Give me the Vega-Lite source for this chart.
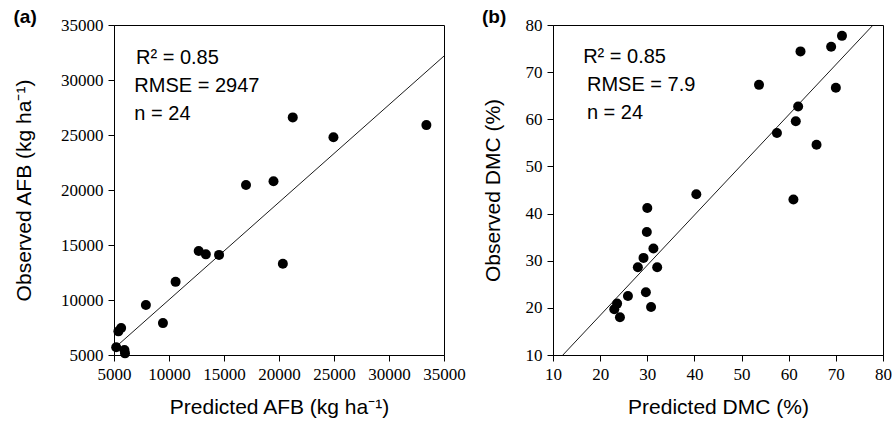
{
  "$schema": "https://vega.github.io/schema/vega-lite/v6.json",
  "background": "white",
  "padding": {"left": 13, "top": 7, "right": 0, "bottom": 5},
  "spacing": 15,
  "config": {
    "view": {"stroke": "black", "strokeWidth": 1},
    "axis": {
      "grid": false,
      "domainColor": "black",
      "domainWidth": 1,
      "tickColor": "black",
      "tickWidth": 1,
      "tickSize": 6,
      "labelFont": "Liberation Serif",
      "labelFontSize": 17,
      "labelColor": "black",
      "labelPadding": 5,
      "labelFlush": false,
      "labelOverlap": false,
      "titleFont": "Liberation Sans",
      "titleFontSize": 21,
      "titleFontWeight": "normal",
      "titleColor": "black"
    },
    "axisX": {"titlePadding": 14},
    "title": {"font": "Liberation Sans", "fontSize": 19, "fontWeight": "bold", "color": "black", "anchor": "start", "frame": "bounds", "offset": -11},
    "text": {"font": "Liberation Sans", "fontSize": 20, "color": "black", "align": "left", "baseline": "middle"}
  },
  "datasets": {
    "afb": [
      {"predicted": 33400, "observed": 25900},
      {"predicted": 24950, "observed": 24800},
      {"predicted": 21250, "observed": 26600},
      {"predicted": 19500, "observed": 20800},
      {"predicted": 17000, "observed": 20450},
      {"predicted": 20350, "observed": 13300},
      {"predicted": 14550, "observed": 14100},
      {"predicted": 13350, "observed": 14150},
      {"predicted": 12700, "observed": 14450},
      {"predicted": 10600, "observed": 11650},
      {"predicted": 7900, "observed": 9550},
      {"predicted": 9450, "observed": 7900},
      {"predicted": 5650, "observed": 7450},
      {"predicted": 5400, "observed": 7150},
      {"predicted": 5200, "observed": 5700},
      {"predicted": 5950, "observed": 5450},
      {"predicted": 6000, "observed": 5150}
    ],
    "afbLine": [
      {"predicted": 5350, "observed": 5900},
      {"predicted": 35000, "observed": 32180}
    ],
    "dmc": [
      {"predicted": 71.3, "observed": 77.7},
      {"predicted": 69.0, "observed": 75.4},
      {"predicted": 62.5, "observed": 74.4},
      {"predicted": 53.7, "observed": 67.3},
      {"predicted": 70.0, "observed": 66.7},
      {"predicted": 62.0, "observed": 62.7},
      {"predicted": 61.5, "observed": 59.6},
      {"predicted": 57.5, "observed": 57.1},
      {"predicted": 65.9, "observed": 54.6},
      {"predicted": 61.0, "observed": 43.0},
      {"predicted": 40.4, "observed": 44.1},
      {"predicted": 30.0, "observed": 41.2},
      {"predicted": 29.9, "observed": 36.1},
      {"predicted": 31.3, "observed": 32.6},
      {"predicted": 29.2, "observed": 30.6},
      {"predicted": 28.0, "observed": 28.6},
      {"predicted": 32.1, "observed": 28.6},
      {"predicted": 25.9, "observed": 22.5},
      {"predicted": 29.7, "observed": 23.3},
      {"predicted": 30.8, "observed": 20.2},
      {"predicted": 23.6, "observed": 20.9},
      {"predicted": 23.0, "observed": 19.7},
      {"predicted": 24.2, "observed": 18.0}
    ],
    "dmcLine": [
      {"predicted": 12.1, "observed": 10},
      {"predicted": 77.9, "observed": 80}
    ]
  },
  "hconcat": [
    {
      "width": 330,
      "height": 330,
      "title": {"text": "(a)"},
      "layer": [
        {
          "data": {"name": "afb"},
          "mark": {"type": "circle", "size": 100, "color": "black", "opacity": 1},
          "encoding": {
            "x": {"field": "predicted", "type": "quantitative", "scale": {"domain": [5000, 35000], "nice": false}, "axis": {"values": [5000, 10000, 15000, 20000, 25000, 30000, 35000], "format": "d", "title": "Predicted  AFB (kg ha⁻¹)"}},
            "y": {"field": "observed", "type": "quantitative", "scale": {"domain": [5000, 35000], "nice": false}, "axis": {"values": [5000, 10000, 15000, 20000, 25000, 30000, 35000], "format": "d", "title": "Observed AFB (kg ha⁻¹)", "titlePadding": 26}}
          }
        },
        {
          "data": {"name": "afbLine"},
          "mark": {"type": "line", "color": "black", "strokeWidth": 0.9},
          "encoding": {
            "x": {"field": "predicted", "type": "quantitative"},
            "y": {"field": "observed", "type": "quantitative"}
          }
        },
        {
          "data": {"values": [{}]},
          "mark": {"type": "text", "text": "R² = 0.85"},
          "encoding": {"x": {"datum": 7000, "type": "quantitative"}, "y": {"datum": 32000, "type": "quantitative"}}
        },
        {
          "data": {"values": [{}]},
          "mark": {"type": "text", "text": "RMSE = 2947"},
          "encoding": {"x": {"datum": 6850, "type": "quantitative"}, "y": {"datum": 29450, "type": "quantitative"}}
        },
        {
          "data": {"values": [{}]},
          "mark": {"type": "text", "text": "n = 24"},
          "encoding": {"x": {"datum": 6850, "type": "quantitative"}, "y": {"datum": 26900, "type": "quantitative"}}
        }
      ]
    },
    {
      "width": 330,
      "height": 330,
      "title": {"text": "(b)"},
      "layer": [
        {
          "data": {"name": "dmc"},
          "mark": {"type": "circle", "size": 100, "color": "black", "opacity": 1},
          "encoding": {
            "x": {"field": "predicted", "type": "quantitative", "scale": {"domain": [10, 80], "nice": false}, "axis": {"values": [10, 20, 30, 40, 50, 60, 70, 80], "format": "d", "title": "Predicted DMC (%)"}},
            "y": {"field": "observed", "type": "quantitative", "scale": {"domain": [10, 80], "nice": false}, "axis": {"values": [10, 20, 30, 40, 50, 60, 70, 80], "format": "d", "title": "Observed DMC  (%)", "titlePadding": 22}}
          }
        },
        {
          "data": {"name": "dmcLine"},
          "mark": {"type": "line", "color": "black", "strokeWidth": 0.9},
          "encoding": {
            "x": {"field": "predicted", "type": "quantitative"},
            "y": {"field": "observed", "type": "quantitative"}
          }
        },
        {
          "data": {"values": [{}]},
          "mark": {"type": "text", "text": "R² = 0.85"},
          "encoding": {"x": {"datum": 16.4, "type": "quantitative"}, "y": {"datum": 73.2, "type": "quantitative"}}
        },
        {
          "data": {"values": [{}]},
          "mark": {"type": "text", "text": "RMSE = 7.9"},
          "encoding": {"x": {"datum": 17.2, "type": "quantitative"}, "y": {"datum": 67.3, "type": "quantitative"}}
        },
        {
          "data": {"values": [{}]},
          "mark": {"type": "text", "text": "n = 24"},
          "encoding": {"x": {"datum": 17.2, "type": "quantitative"}, "y": {"datum": 61.3, "type": "quantitative"}}
        }
      ]
    }
  ]
}
